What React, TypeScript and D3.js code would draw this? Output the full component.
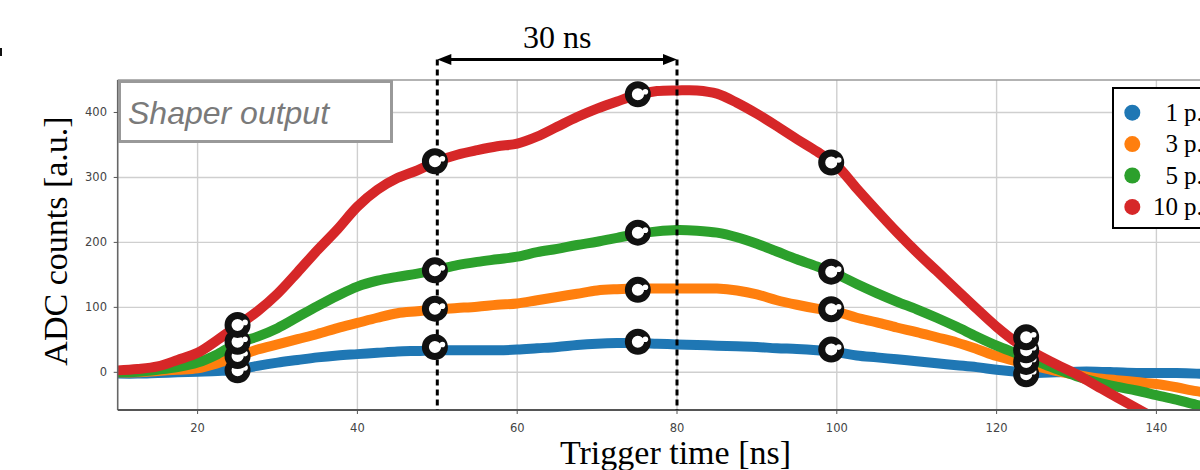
import React from 'react';
import * as d3 from 'd3';

// Trigger time [ns]
const times = [
  10, 12.5, 15, 17.5, 20, 22.5, 25, 27.5, 30, 32.5, 35, 37.5, 40, 42.5, 45, 47.5,
  50, 52.5, 55, 57.5, 60, 62.5, 65, 67.5, 70, 72.5, 75, 77.5, 80, 82.5, 85, 87.5,
  90, 92.5, 95, 97.5, 100, 102.5, 105, 107.5, 110, 112.5, 115, 117.5, 120, 122.5,
  125, 127.5, 130, 132.5, 135, 137.5, 140, 142.5, 145, 147.5, 150,
];

// ADC counts per series
const pe1 = [
  -2, -2, -1, 0, 1, 2, 4, 10, 15, 19, 23, 26, 28, 30, 32, 33,
  34, 34, 34, 34, 35, 37, 39, 42, 44, 45, 45, 44, 43, 42, 41, 40,
  39, 37, 36, 34, 31, 26, 23, 20, 17, 14, 11, 8, 4, 1,
  -1, 0, 1, 1, 0, -1, -1, -1, -2, -4, -7,
];
const pe3 = [
  0, 0, 2, 4, 6, 14, 24, 35, 43, 51, 59, 68, 76, 84, 91, 94,
  97, 99, 101, 104, 106, 111, 116, 121, 126, 128, 129, 129, 129, 129, 129, 126,
  120, 111, 104, 98, 93, 84, 77, 69, 62, 54, 46, 36, 25, 17,
  9, 2, -4, -9, -12, -15, -18, -23, -29, -33, -37,
];
const pe5 = [
  0, 1, 4, 8, 15, 28, 45, 55, 68, 85, 102, 118, 132, 141, 147, 152,
  158, 165, 170, 174, 178, 185, 190, 196, 201, 207, 213, 217, 219, 218, 215, 208,
  198, 186, 174, 163, 151, 136, 122, 109, 97, 84, 70, 55, 41, 29,
  17, 5, -6, -15, -22, -28, -35, -42, -50, -56, -61,
];
const pe10: (number | null)[] = [
  3, 5, 9, 19, 30, 50, 72, 94, 121, 154, 188, 220, 255, 281, 299, 311,
  325, 335, 342, 348, 352, 363, 378, 393, 406, 417, 427, 433, 434, 434, 429, 415,
  398, 379, 359, 340, 318, 283, 249, 216, 185, 156, 127, 98, 70, 46,
  28, 12, -3, -21, -38, -55, -72, null, null, null, null,
];

const seriesLabels = ['1', '3', '5', '10'];
const seriesColors = ['#1f77b4', '#ff7f0e', '#2ca02c', '#d62728'];

// Sketched sample markers
const markerTimes = [25, 49.7, 75.1, 99.3, 123.7];
const markers1 = [3, 39, 47, 35, -3];
const markers3 = [25, 98, 127, 97, 16];
const markers5 = [47, 157, 215, 155, 34];
const markers10 = [73, 325, 428, 323, 54];

const xTicks = [20, 40, 60, 80, 100, 120, 140];
const yTicks = [0, 100, 200, 300, 400];
const spanStart = 50;
const spanEnd = 80;

export default function App() {
  const W = 1200;
  const H = 470;
  const x = d3.scaleLinear().domain([10, 150]).range([117.7, 1236.3]);
  const y = d3.scaleLinear().domain([-58, 450]).range([410, 80]);
  const [x0, x1] = x.range();
  const [yb, yt] = y.range();

  const allSeries = [pe1, pe3, pe5, pe10];
  const allMarkers = [markers1, markers3, markers5, markers10];

  const line = d3
    .line<number>()
    .defined((d) => d !== null && d !== undefined)
    .x((_, i) => x(times[i]))
    .y((d) => y(d as number))
    .curve(d3.curveCatmullRom.alpha(0.5));

  const serif = "'Liberation Serif', 'DejaVu Serif', serif";
  const sans = "'DejaVu Sans', sans-serif";
  const arrowY = 59.5;

  return (
    <svg
      width={W}
      height={H}
      style={{ position: 'absolute', left: 0, top: 0, background: '#fff' }}
    >
      <defs>
        <clipPath id="plot">
          <rect x={x0} y={yt} width={x1 - x0} height={yb - yt} />
        </clipPath>
      </defs>
      <rect x={0} y={0} width={W} height={H} fill="#fff" />
      <rect x={0} y={48} width={2} height={8} fill="#111" />

      {/* grid */}
      {xTicks.map((t) => (
        <line key={'gx' + t} x1={x(t)} x2={x(t)} y1={yt} y2={yb} stroke="#cfcfcf" strokeWidth={1.4} />
      ))}
      {yTicks.map((t) => (
        <line key={'gy' + t} x1={x0} x2={x1} y1={y(t)} y2={y(t)} stroke="#cfcfcf" strokeWidth={1.4} />
      ))}

      {/* series */}
      <g clipPath="url(#plot)">
        {allSeries.map((s, i) => (
          <path
            key={'s' + i}
            d={line(s as number[]) || ''}
            fill="none"
            stroke={seriesColors[i]}
            strokeWidth={10}
            strokeLinejoin="round"
            strokeLinecap="round"
          />
        ))}
      </g>

      {/* spines */}
      <line x1={x0} x2={x1} y1={yt} y2={yt} stroke="#9a9a9a" strokeWidth={1.5} />
      <line x1={x0} x2={x0} y1={yt} y2={yb} stroke="#666" strokeWidth={1.6} />
      <line x1={x0} x2={x1} y1={yb} y2={yb} stroke="#555" strokeWidth={1.8} />

      {/* ticks */}
      {xTicks.map((t) => (
        <g key={'tx' + t}>
          <line x1={x(t)} x2={x(t)} y1={yb} y2={yb + 4} stroke="#555" strokeWidth={1} />
          <text x={x(t)} y={432} textAnchor="middle" fontFamily={sans} fontSize={11.5} fill="#444">
            {t}
          </text>
        </g>
      ))}
      {yTicks.map((t) => (
        <g key={'ty' + t}>
          <line x1={x0 - 4} x2={x0} y1={y(t)} y2={y(t)} stroke="#555" strokeWidth={1} />
          <text x={107} y={y(t) + 4} textAnchor="end" fontFamily={sans} fontSize={11.5} fill="#444">
            {t}
          </text>
        </g>
      ))}

      {/* axis titles */}
      <text x={675.5} y={464} textAnchor="middle" fontFamily={serif} fontSize={34} fill="#000">
        Trigger time [ns]
      </text>
      <text
        transform={`translate(67,241) rotate(-90)`}
        textAnchor="middle"
        fontFamily={serif}
        fontSize={34}
        fill="#000"
      >
        ADC counts [a.u.]
      </text>

      {/* 30 ns span annotation */}
      {[spanStart, spanEnd].map((t) => (
        <line
          key={'d' + t}
          x1={x(t)}
          x2={x(t)}
          y1={arrowY}
          y2={yb}
          stroke="#000"
          strokeWidth={3}
          strokeDasharray="6,4"
        />
      ))}
      <line x1={x(spanStart) + 10} x2={x(spanEnd) - 10} y1={arrowY} y2={arrowY} stroke="#000" strokeWidth={3} />
      <path
        d={`M${x(spanStart)},${arrowY} L${x(spanStart) + 14},${arrowY - 5.5} L${x(spanStart) + 14},${arrowY + 5.5} Z`}
        fill="#000"
      />
      <path
        d={`M${x(spanEnd)},${arrowY} L${x(spanEnd) - 14},${arrowY - 5.5} L${x(spanEnd) - 14},${arrowY + 5.5} Z`}
        fill="#000"
      />
      <text x={(x(spanStart) + x(spanEnd)) / 2} y={47.5} textAnchor="middle" fontFamily={serif} fontSize={32} fill="#000">
        {`${spanEnd - spanStart} ns`}
      </text>

      {/* markers */}
      {allMarkers.map((m, i) =>
        m.map((v, j) => (
          <g key={`m${i}-${j}`} transform={`translate(${x(markerTimes[j])},${y(v)})`}>
            <circle r={9.5} fill="#fff" stroke="#111" strokeWidth={7} />
            <circle cx={1} cy={0} r={5} fill="#fff" />
            <circle cx={7.5} cy={-2.5} r={2.8} fill="#fff" />
          </g>
        ))
      )}

      {/* Shaper output label */}
      <rect x={119.5} y={81.5} width={272} height={60} fill="#fff" stroke="#999" strokeWidth={3} />
      <text x={128} y={124} fontFamily="'Liberation Sans', Arial, sans-serif" fontStyle="italic" fontSize={32} fill="#7a7a7a">
        Shaper output
      </text>

      {/* legend */}
      <rect x={1113} y={88} width={120} height={140} fill="#fff" stroke="#000" strokeWidth={2} />
      {seriesLabels.map((lab, i) => {
        const cy = 112.7 + i * 31.4;
        return (
          <g key={'l' + i}>
            <circle cx={1132.3} cy={cy} r={8} fill={seriesColors[i]} />
            <text x={1178} y={cy + 8} textAnchor="end" fontFamily={serif} fontSize={25} fill="#000">
              {lab}
            </text>
            <text x={1184} y={cy + 8} fontFamily={serif} fontSize={25} fill="#000">
              p.e.
            </text>
          </g>
        );
      })}
    </svg>
  );
}
